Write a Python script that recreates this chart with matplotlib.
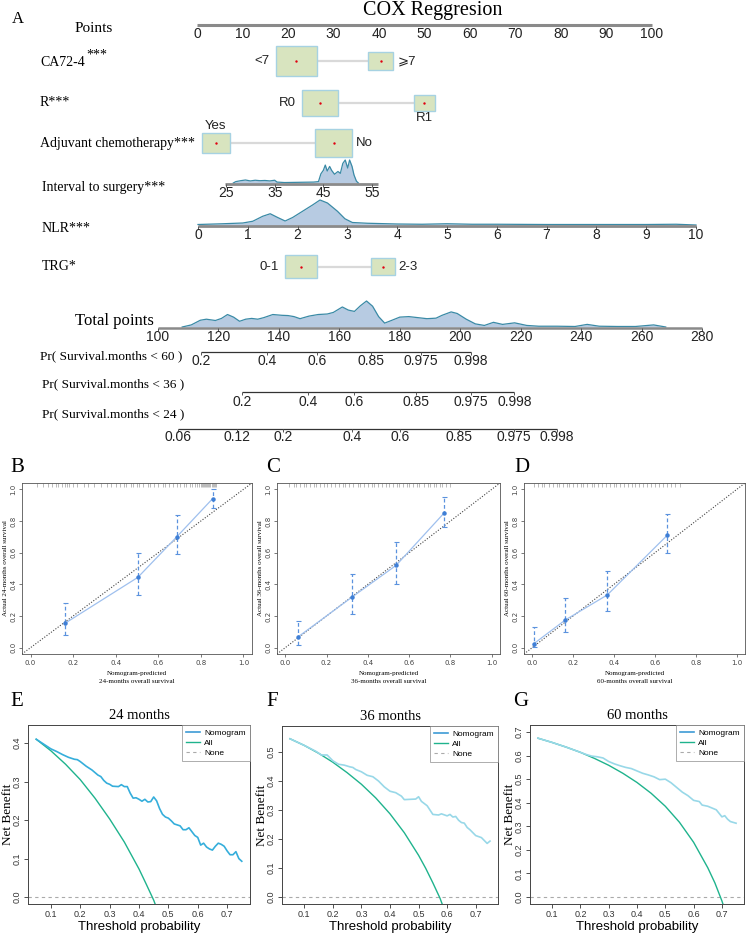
import numpy as np
import matplotlib.pyplot as plt
from matplotlib.patches import Rectangle
from matplotlib.lines import Line2D

plt.rcParams['mathtext.fontset'] = 'stix'

W, H = 746, 936
SERIF = 'Liberation Serif'
SANS = 'Liberation Sans'

# ---------------- nomogram data ----------------
points_ticks = list(range(0, 101, 10))

ca_levels = ['<7', '⩾7']
ca_points = [21.8, 40.4]
r_levels = ['R0', 'R1']
r_points = [27.1, 49.9]
adj_levels = ['Yes', 'No']
adj_points = [4.1, 30.0]
trg_levels = ['0-1', '2-3']
trg_points = [22.9, 40.8]

interval_ticks = [25, 35, 45, 55]
interval_x = [26.5, 27, 28, 29, 30, 31, 32, 33, 34, 35, 35.5, 37, 40, 43, 44, 44.5,
              45, 45.4, 45.8, 46.3, 46.7, 47.3, 48, 48.5, 49, 49.5, 50, 50.4, 50.9,
              51.3, 51.8, 52.2]
interval_d = [0.0, 0.06, 0.1, 0.13, 0.09, 0.12, 0.1, 0.11, 0.09, 0.12, 0.04, 0.02, 0.03,
              0.04, 0.06, 0.4, 0.55, 0.78, 0.52, 0.72, 0.55, 0.38, 0.5, 0.42, 0.85, 1.0,
              0.65, 1.0, 0.72, 0.35, 0.08, 0.0]

nlr_ticks = list(range(0, 11))
nlr_x = [0, 0.5, 0.9, 1.1, 1.3, 1.45, 1.6, 1.75, 1.9, 2.1, 2.3, 2.45, 2.6, 2.8, 2.95,
         3.1, 3.4, 4.0, 4.5, 5.0, 5.5, 6, 7, 8, 9, 9.6, 10]
nlr_d = [0.02, 0.05, 0.08, 0.15, 0.35, 0.45, 0.3, 0.16, 0.3, 0.55, 0.8, 1.0, 0.88, 0.55,
         0.25, 0.1, 0.07, 0.04, 0.03, 0.05, 0.03, 0.03, 0.02, 0.02, 0.02, 0.03, 0.0]

total_ticks = list(range(100, 281, 20))
total_x = [108, 111, 114, 116, 119, 121, 123, 125, 127, 129, 131, 133, 135, 138, 141, 143,
           145, 147, 150, 153, 156, 158, 161, 163, 165, 167, 169, 171, 173, 175, 177, 180,
           183, 186, 189, 192, 194, 197, 199, 202, 205, 208, 211, 214, 218, 222, 226, 232,
           238, 242, 246, 252, 258, 264, 268]
total_d = [0.0, 0.08, 0.26, 0.3, 0.25, 0.33, 0.48, 0.38, 0.22, 0.3, 0.33, 0.3, 0.36, 0.48,
           0.45, 0.44, 0.4, 0.32, 0.42, 0.48, 0.5, 0.56, 0.77, 0.65, 0.6, 0.82, 1.0, 0.8,
           0.4, 0.15, 0.24, 0.38, 0.4, 0.36, 0.32, 0.34, 0.45, 0.58, 0.52, 0.3, 0.12, 0.06,
           0.18, 0.1, 0.16, 0.06, 0.03, 0.03, 0.02, 0.1, 0.03, 0.02, 0.02, 0.08, 0.0]

pr60_labels = ['0.2', '0.4', '0.6', '0.85', '0.975', '0.998']
pr60_at = [114.2, 136.0, 152.5, 170.5, 187.0, 203.6]
pr36_labels = ['0.2', '0.4', '0.6', '0.85', '0.975', '0.998']
pr36_at = [127.8, 149.7, 164.9, 185.4, 203.6, 217.9]
pr24_labels = ['0.06', '0.12', '0.2', '0.4', '0.6', '0.85', '0.975', '0.998']
pr24_at = [106.6, 126.1, 141.4, 164.2, 180.1, 199.6, 217.8, 232.0]

# ---------------- calibration data ----------------
cal_b_x = [0.162, 0.504, 0.688, 0.855]
cal_b_y = [0.154, 0.444, 0.702, 0.941]
cal_b_lo = [0.08, 0.33, 0.59, 0.885]
cal_b_hi = [0.285, 0.598, 0.835, 1.0]
cal_b_rug = [0.03, 0.06, 0.08, 0.1, 0.12, 0.13, 0.15, 0.16, 0.17, 0.18, 0.2, 0.22, 0.25,
             0.27, 0.3, 0.33, 0.36, 0.38, 0.4, 0.42, 0.44, 0.45, 0.47, 0.48, 0.5, 0.51,
             0.53, 0.55, 0.56, 0.58, 0.6, 0.62, 0.63, 0.65, 0.67, 0.69, 0.7, 0.72, 0.73,
             0.75, 0.76, 0.77, 0.78, 0.79, 0.8, 0.805, 0.81, 0.815, 0.82, 0.825, 0.83,
             0.835, 0.84, 0.845, 0.85, 0.855, 0.86, 0.865, 0.87]

cal_c_x = [0.064, 0.324, 0.537, 0.769]
cal_c_y = [0.07, 0.32, 0.52, 0.85]
cal_c_lo = [0.02, 0.21, 0.40, 0.76]
cal_c_hi = [0.17, 0.465, 0.67, 0.95]
cal_c_rug = [0.02, 0.04, 0.05, 0.07, 0.09, 0.1, 0.12, 0.14, 0.15, 0.17, 0.19, 0.2, 0.22,
             0.24, 0.26, 0.28, 0.29, 0.31, 0.33, 0.35, 0.36, 0.38, 0.4, 0.42, 0.43, 0.45,
             0.47, 0.49, 0.5, 0.52, 0.54, 0.55, 0.57, 0.59, 0.6, 0.62, 0.64, 0.65, 0.67,
             0.69, 0.7, 0.72, 0.73, 0.75, 0.76, 0.78, 0.8]

cal_d_x = [0.008, 0.162, 0.367, 0.66]
cal_d_y = [0.025, 0.175, 0.333, 0.71]
cal_d_lo = [0.006, 0.097, 0.229, 0.598]
cal_d_hi = [0.13, 0.316, 0.484, 0.844]
cal_d_rug = [0.01, 0.03, 0.05, 0.06, 0.08, 0.1, 0.12, 0.13, 0.15, 0.17, 0.18, 0.2, 0.22,
             0.24, 0.25, 0.27, 0.29, 0.3, 0.32, 0.34, 0.36, 0.38, 0.4, 0.41, 0.43, 0.45,
             0.47, 0.49, 0.5, 0.52, 0.54, 0.56, 0.58, 0.6, 0.62, 0.64, 0.66, 0.68, 0.7, 0.72]

# ---------------- decision curve data ----------------
all_e_x = [0.05, 0.1, 0.15, 0.2, 0.25, 0.3, 0.35, 0.4, 0.425, 0.45, 0.5]
all_e_y = [0.41, 0.38, 0.345, 0.305, 0.257, 0.203, 0.143, 0.073, 0.033, -0.008, -0.11]
nom_e_x = [0.05, 0.07, 0.09, 0.1, 0.12, 0.14, 0.16, 0.18, 0.19, 0.2, 0.22, 0.24, 0.26,
           0.27, 0.28, 0.29, 0.3, 0.31, 0.33, 0.34, 0.35, 0.36, 0.37, 0.38, 0.39, 0.4,
           0.41, 0.42, 0.43, 0.44, 0.45, 0.46, 0.47, 0.48, 0.49, 0.5, 0.51, 0.52, 0.54,
           0.55, 0.56, 0.57, 0.58, 0.59, 0.6, 0.61, 0.62, 0.63, 0.64, 0.65, 0.66, 0.67,
           0.68, 0.69, 0.7, 0.71, 0.72, 0.73, 0.74, 0.75]
nom_e_y = [0.41, 0.4, 0.39, 0.385, 0.378, 0.37, 0.363, 0.358, 0.357, 0.352, 0.34, 0.33,
           0.317, 0.313, 0.303, 0.296, 0.293, 0.288, 0.287, 0.292, 0.287, 0.287, 0.27,
           0.257, 0.258, 0.254, 0.249, 0.254, 0.247, 0.248, 0.26, 0.25, 0.23, 0.215,
           0.208, 0.205, 0.198, 0.19, 0.185, 0.175, 0.175, 0.18, 0.17, 0.16, 0.155, 0.135,
           0.14, 0.13, 0.125, 0.122, 0.132, 0.14, 0.137, 0.132, 0.12, 0.11, 0.11, 0.118,
           0.1, 0.093]

all_f_x = [0.05, 0.1, 0.15, 0.2, 0.25, 0.3, 0.35, 0.4, 0.45, 0.5, 0.525, 0.55, 0.575, 0.6]
all_f_y = [0.546, 0.523, 0.496, 0.465, 0.429, 0.389, 0.342, 0.287, 0.222, 0.144, 0.099,
           0.049, -0.004, -0.07]
nom_f_x = [0.05, 0.1, 0.14, 0.16, 0.18, 0.2, 0.22, 0.24, 0.26, 0.27, 0.28, 0.3, 0.32, 0.34,
           0.36, 0.38, 0.4, 0.42, 0.44, 0.45, 0.47, 0.49, 0.5, 0.51, 0.53, 0.55, 0.57,
           0.58, 0.6, 0.61, 0.62, 0.63, 0.64, 0.65, 0.66, 0.67, 0.68, 0.7, 0.72, 0.73,
           0.74, 0.75]
nom_f_y = [0.546, 0.523, 0.503, 0.49, 0.49, 0.47, 0.458, 0.455, 0.449, 0.447, 0.44, 0.432,
           0.42, 0.415, 0.4, 0.38, 0.365, 0.36, 0.348, 0.336, 0.337, 0.338, 0.346, 0.33,
           0.315, 0.285, 0.283, 0.287, 0.28, 0.285, 0.276, 0.278, 0.265, 0.257, 0.255,
           0.24, 0.232, 0.212, 0.205, 0.195, 0.185, 0.193]

all_g_x = [0.05, 0.1, 0.15, 0.2, 0.25, 0.3, 0.35, 0.4, 0.45, 0.5, 0.55, 0.6, 0.65, 0.675,
           0.7, 0.72]
all_g_y = [0.674, 0.656, 0.636, 0.614, 0.588, 0.559, 0.525, 0.486, 0.44, 0.385, 0.317,
           0.232, 0.124, 0.06, -0.017, -0.09]
nom_g_x = [0.05, 0.1, 0.15, 0.2, 0.22, 0.24, 0.26, 0.28, 0.3, 0.32, 0.34, 0.36, 0.38, 0.4,
           0.42, 0.44, 0.46, 0.48, 0.5, 0.52, 0.54, 0.56, 0.58, 0.6, 0.62, 0.63, 0.65,
           0.67, 0.68, 0.69, 0.7, 0.71, 0.72, 0.73, 0.75]
nom_g_y = [0.674, 0.656, 0.636, 0.614, 0.605, 0.598, 0.595, 0.59, 0.575, 0.565, 0.557,
           0.55, 0.545, 0.535, 0.525, 0.518, 0.51, 0.498, 0.5, 0.485, 0.465, 0.445, 0.43,
           0.41, 0.405, 0.39, 0.385, 0.375, 0.37, 0.355, 0.34, 0.345, 0.33, 0.32, 0.313]

# ---------------- styles ----------------
BOX_FACE = '#d8e4bf'
BOX_EDGE = '#a6d2e2'
DENS_FACE = '#b7cbe2'
DENS_EDGE = '#3a8aa6'
AXIS_GRAY = '#8a8a8a'
CAL_LINE = '#9fc0ee'
CAL_PT = '#3f7fd6'
ALL_COL = '#1fb38d'
NOM_LEG = '#3d9bd6'
PT_PX = 4.55          # pixels per nomogram point
BOX_ASPECT = 0.73     # box height / width
TICKFONT = ['Liberation Sans Narrow', SANS]

fig = plt.figure(figsize=(W / 100, H / 100), dpi=100)


def px_axes(l, t, r, b):
    return fig.add_axes([l / W, 1 - b / H, (r - l) / W, (b - t) / H])


def scale_axes(v0, p0, v1, p1, top=0, bottom=450):
    # full-width transparent axes: value v0 sits at pixel p0, v1 at p1; y is pixel rows
    ax = px_axes(0, top, W, bottom)
    k = (v1 - v0) / (p1 - p0)
    ax.set_xlim(v0 - p0 * k, v0 + (W - p0) * k)
    ax.set_ylim(bottom, top)
    ax.axis('off')
    ax.patch.set_alpha(0)
    return ax


def ftext(x, y, s, **kw):
    fig.text(x / W, 1 - y / H, s, **kw)


def scale_line(ax, lo, hi, y, ticks, labels, lw=2.2, color=AXIS_GRAY, tick_len=3, lab_gap=2, size=10):
    ax.plot([lo, hi], [y, y], color=color, lw=lw, solid_capstyle='butt', zorder=3)
    ax.vlines(ticks, y, y + tick_len, color='#555555', lw=0.7, zorder=3)
    for t, s in zip(ticks, labels):
        ax.text(t, y + lab_gap, s, ha='center', va='top', fontsize=size, family=TICKFONT,
                color='#222222')


def density(ax, xs, ds, base, height):
    ys = [base - d * height for d in ds]
    ax.fill_between(xs, base, ys, color=DENS_FACE, lw=0, zorder=2)
    ax.plot(xs, ys, color=DENS_EDGE, lw=0.9, zorder=2)


def box_row(ax, pts, levels, y, widths, placement):
    ax.plot(pts, [y, y], color='#d9d9d9', lw=1.6, zorder=1)
    for p, lev, w, pl in zip(pts, levels, widths, placement):
        wp = w / PT_PX
        h = w * BOX_ASPECT
        ax.add_patch(Rectangle((p - wp / 2, y - h / 2), wp, h, facecolor=BOX_FACE,
                               edgecolor=BOX_EDGE, lw=1.0, zorder=2))
        ax.scatter([p], [y], s=3, color='#e00010', zorder=3, linewidths=0)
        kw = dict(fontsize=9.5, family=TICKFONT + ['DejaVu Sans'], color='#222222')
        if pl == 'left':
            ax.text(p - (w / 2 + 6) / PT_PX, y, lev, ha='right', va='center', **kw)
        elif pl == 'right':
            ax.text(p + (w / 2 + 4) / PT_PX, y, lev, ha='left', va='center', **kw)
        elif pl == 'below':
            ax.text(p, y + h / 2 + 1, lev, ha='center', va='top', **kw)
        else:
            ax.text(p, y - h / 2 - 1, lev, ha='center', va='bottom', **kw)


# ---------------- panel A: nomogram ----------------
axp = scale_axes(0, 197, 100, 652)
ftext(12, 19, 'A', family=SERIF, fontsize=12, va='center')
ftext(433, 11, 'COX Reggresion', family=SERIF, fontsize=14.5, ha='center', va='center')

ftext(75, 28, 'Points', family=SERIF, fontsize=11, va='center')
scale_line(axp, 0, 100, 25, points_ticks, [str(t) for t in points_ticks], tick_len=0, lab_gap=2)

ftext(40, 62, 'CA72-4', family=SERIF, fontsize=10, va='center')
ftext(86, 55, '***', family=SERIF, fontsize=10, va='center')
box_row(axp, ca_points, ca_levels, 61, [41, 25], ['left', 'right'])

ftext(40, 103, 'R***', family=SERIF, fontsize=10, va='center')
box_row(axp, r_points, r_levels, 103, [36, 21], ['left', 'below'])

ftext(40, 144, 'Adjuvant chemotherapy***', family=SERIF, fontsize=10, va='center')
box_row(axp, adj_points, adj_levels, 143, [28, 37], ['above', 'right'])

ftext(42, 188, 'Interval to surgery***', family=SERIF, fontsize=10, va='center')
axi = scale_axes(25, 226, 55, 372)
density(axi, interval_x, interval_d, 183, 23)
scale_line(axi, 24.8, 56.3, 184, interval_ticks, [str(t) for t in interval_ticks], lw=2.0)

ftext(42, 229, 'NLR***', family=SERIF, fontsize=10, va='center')
axl = scale_axes(0, 198, 10, 696)
density(axl, nlr_x, nlr_d, 225, 25)
scale_line(axl, 0, 10, 226, nlr_ticks, [str(t) for t in nlr_ticks], lw=2.0)

ftext(42, 267, 'TRG*', family=SERIF, fontsize=10, va='center')
box_row(axp, trg_points, trg_levels, 266.5, [32, 24], ['left', 'right'])

ftext(75, 321, 'Total points', family=SERIF, fontsize=12, va='center')
axt = scale_axes(100, 158, 280, 702)
density(axt, total_x, total_d, 327, 26)
scale_line(axt, 100, 280, 328, total_ticks, [str(t) for t in total_ticks], lw=1.8)

ftext(40, 356, 'Pr( Survival.months < 60 )', family=SERIF, fontsize=9.5, va='center')
scale_line(axt, pr60_at[0], pr60_at[-1], 352, pr60_at, pr60_labels, lw=0.9, color='#333333',
           tick_len=3, lab_gap=2)
ftext(42, 384, 'Pr( Survival.months < 36 )', family=SERIF, fontsize=9.5, va='center')
scale_line(axt, pr36_at[0], pr36_at[-1], 392, pr36_at, pr36_labels, lw=0.9, color='#333333',
           tick_len=3, lab_gap=3)
ftext(42, 414, 'Pr( Survival.months < 24 )', family=SERIF, fontsize=9.5, va='center')
scale_line(axt, pr24_at[0], pr24_at[-1], 429, pr24_at, pr24_labels, lw=0.9, color='#333333',
           tick_len=3, lab_gap=1)


# ---------------- panels B-D: calibration ----------------
def calib(box, letter, lx, months, xs, ys, lo, hi, rug):
    ax = px_axes(*box)
    ax.set_xlim(-0.04, 1.04)
    ax.set_ylim(-0.04, 1.04)
    ticks = [0, 0.2, 0.4, 0.6, 0.8, 1.0]
    ax.set_xticks(ticks)
    ax.set_yticks(ticks)
    ax.set_xticklabels(['%.1f' % t for t in ticks])
    ax.set_yticklabels(['%.1f' % t for t in ticks], rotation=90, va='center')
    ax.tick_params(labelsize=5, length=2.5, width=0.5, pad=1.5, colors='#444444')
    for s in ax.spines.values():
        s.set_linewidth(0.6)
        s.set_color('#555555')
    ax.axline((0, 0), (1, 1), ls=(0, (1, 1.5)), color='#444444', lw=0.8)
    ax.vlines(rug, 0.975, 1.0, transform=ax.get_xaxis_transform(), color='#888888', lw=0.4)
    ax.plot(xs, ys, color=CAL_LINE, lw=0.9)
    ys = np.array(ys)
    eb = ax.errorbar(xs, ys, yerr=[ys - np.array(lo), np.array(hi) - ys], fmt='none',
                     ecolor='#5b92de', elinewidth=0.9, capsize=1.8, capthick=0.8)
    eb[2][0].set_linestyle((0, (3, 2)))
    ax.plot(xs, ys, 'o', ms=2.2, color=CAL_PT)
    ax.set_ylabel('Actual %d-months overall survival' % months, family=SERIF, fontsize=5,
                  labelpad=2)
    ax.set_xlabel('Nomogram-predicted\n%d-months overall survival' % months, family=SERIF,
                  fontsize=5, labelpad=4, linespacing=1.7)
    ftext(lx, 468, letter, family=SERIF, fontsize=15, va='center')


calib((22, 483, 252, 654), 'B', 10, 24, cal_b_x, cal_b_y, cal_b_lo, cal_b_hi, cal_b_rug)
calib((277, 483, 500, 654), 'C', 266, 36, cal_c_x, cal_c_y, cal_c_lo, cal_c_hi, cal_c_rug)
calib((524, 483, 745, 654), 'D', 514, 60, cal_d_x, cal_d_y, cal_d_lo, cal_d_hi, cal_d_rug)


# ---------------- panels E-G: decision curves ----------------
def dca(box, letter, lx, title, ax_, ay_, nx, ny, ncol, ylim, ytop):
    ax = px_axes(*box)
    width = box[2] - box[0]
    ax.set_xlim(0.022, 0.778)
    ax.set_ylim(*ylim)
    ax.axhline(0, color='#aaaaaa', lw=0.8, ls=(0, (3, 3)))
    ax.plot(ax_, ay_, color=ALL_COL, lw=1.0)
    ax.plot(nx, ny, color=ncol, lw=1.2)
    xt = [0.1, 0.2, 0.3, 0.4, 0.5, 0.6, 0.7]
    yt = [i / 10 for i in range(ytop + 1)]
    ax.set_xticks(xt)
    ax.set_yticks(yt)
    ax.set_xticklabels(['%.1f' % t for t in xt])
    ax.set_yticklabels(['%.1f' % t for t in yt], rotation=90, va='center')
    ax.tick_params(labelsize=6.5, length=3, width=0.6, pad=1.5, colors='#333333')
    for lab in ax.get_xticklabels() + ax.get_yticklabels():
        lab.set_family(SANS)
    for s in ax.spines.values():
        s.set_linewidth(0.7)
        s.set_color('#444444')
    ax.set_title(title, family=SERIF, fontsize=10.5, pad=4)
    ax.set_ylabel('Net Benefit', family=SERIF, fontsize=9.5)
    ax.yaxis.set_label_coords(-14 / width, 0.5)
    ax.set_xlabel('Threshold probability', family=SANS, fontsize=9.5, labelpad=1)
    handles = [Line2D([], [], color=NOM_LEG, lw=1.2),
               Line2D([], [], color=ALL_COL, lw=1.0),
               Line2D([], [], color='#aaaaaa', lw=0.8, ls=(0, (3, 3)))]
    leg = ax.legend(handles, ['Nomogram', 'All', 'None'], loc='upper right',
                    frameon=True, fancybox=False, borderaxespad=0, handlelength=1.7,
                    handletextpad=0.5, labelspacing=0.25, borderpad=0.5,
                    prop={'family': SANS, 'size': 6})
    leg.get_frame().set_edgecolor('#888888')
    leg.get_frame().set_linewidth(0.6)
    ftext(lx, 701, letter, family=SERIF, fontsize=15, va='center')


dca((28, 725, 250, 904), 'E', 10, '24 months', all_e_x, all_e_y, nom_e_x, nom_e_y,
    '#35aedb', (-0.018, 0.447), 4)
dca((282, 726, 498, 904), 'F', 266, '36 months', all_f_x, all_f_y, nom_f_x, nom_f_y,
    '#98d8e8', (-0.024, 0.59), 5)
dca((530, 725, 744, 904), 'G', 513, '60 months', all_g_x, all_g_y, nom_g_x, nom_g_y,
    '#98d8e8', (-0.03, 0.73), 7)

fig.savefig('out.png', dpi=100)
